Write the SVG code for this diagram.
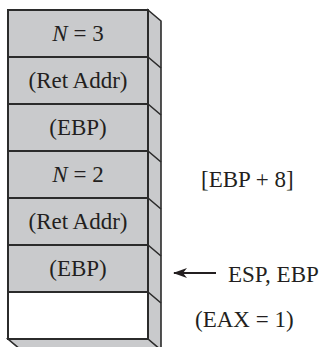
<svg xmlns="http://www.w3.org/2000/svg" width="323" height="347" viewBox="0 0 323 347">
<defs>
<style>
.cell{fill:#c9cacc;stroke:#2b2b2b;stroke-width:2}
.empty{fill:#ffffff;stroke:#2b2b2b;stroke-width:2}
.side{fill:#c9cacc;stroke:#2b2b2b;stroke-width:1.6;stroke-linejoin:miter}
.edge{fill:none;stroke:#2b2b2b;stroke-width:1.6}
text{font-family:"Liberation Serif","Times New Roman",serif;font-size:23px;fill:#231f20}
.c{text-anchor:middle}
</style>
<marker id="ah" viewBox="0 0 14 10" refX="13" refY="5" markerWidth="14" markerHeight="10" markerUnits="userSpaceOnUse" orient="auto">
<path d="M14,5 L0,0 L4,5 L0,10 Z" fill="#231f20"/>
</marker>
</defs>
<g id="side-panel">
<polygon class="side" points="148,10 161,21 161,352 148,341"/>
<polygon class="side" points="8,339 148,339 161,350 21,350"/>
<path class="edge" d="M148,57 L161,68 M148,104 L161,115 M148,151 L161,162 M148,198 L161,209 M148,245 L161,256 M148,292 L161,303"/>
</g>
<g id="n3"><rect class="cell" x="8" y="10" width="140" height="47"/><text class="c" x="78" y="41"><tspan font-style="italic">N</tspan> = 3</text></g>
<g id="ret1"><rect class="cell" x="8" y="57" width="140" height="47"/><text class="c" x="78" y="88">(Ret Addr)</text></g>
<g id="ebp1"><rect class="cell" x="8" y="104" width="140" height="47"/><text class="c" x="78" y="135">(EBP)</text></g>
<g id="n2"><rect class="cell" x="8" y="151" width="140" height="47"/><text class="c" x="78" y="182"><tspan font-style="italic">N</tspan> = 2</text></g>
<g id="ret2"><rect class="cell" x="8" y="198" width="140" height="47"/><text class="c" x="78" y="229">(Ret Addr)</text></g>
<g id="ebp2"><rect class="cell" x="8" y="245" width="140" height="47"/><text class="c" x="78" y="276">(EBP)</text></g>
<g id="free"><rect class="empty" x="8" y="292" width="140" height="47"/></g>
<g id="label-ebp8"><text x="201" y="187">[EBP + 8]</text></g>
<g id="label-esp"><text x="228" y="282">ESP, EBP</text></g>
<g id="label-eax"><text x="195" y="327">(EAX = 1)</text></g>
<g id="connectors">
<line x1="216" y1="273" x2="174" y2="273" stroke="#231f20" stroke-width="2" marker-end="url(#ah)"/>
</g>
</svg>
